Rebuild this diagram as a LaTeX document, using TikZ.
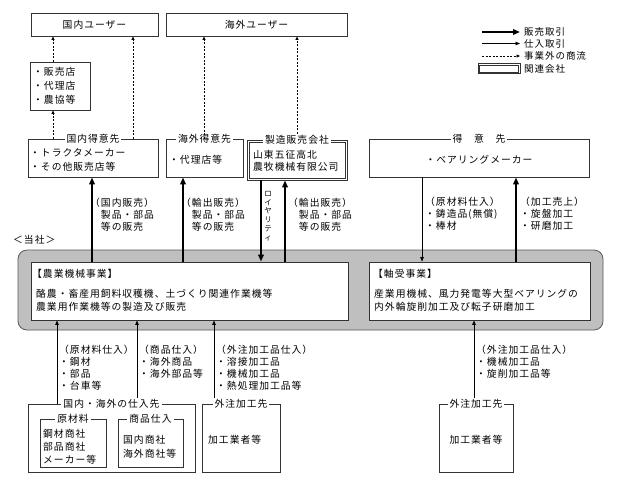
\documentclass[tikz,border=0pt]{standalone}
\usepackage{fontspec}
\setmainfont{Noto Sans CJK JP}[LetterSpace=10]
\usetikzlibrary{arrows.meta}
\tikzset{
  every node/.style={inner sep=0pt, font=\fontsize{9.8}{12}\selectfont},
  box/.style={draw=black!80, line width=0.8pt, minimum width=#1},
  inline/.style={draw=black!80, line width=0.6pt},
  ttl/.style={fill=white, inner xsep=2pt, inner ysep=1pt},
  txt/.style={align=left, anchor=west},
  sale/.style={line width=2.2pt, -{Triangle[length=7pt,width=5.5pt]}},
  buy/.style={line width=0.8pt, -{Triangle[length=4.5pt,width=3.5pt]}},
  ext/.style={line width=0.7pt, dash pattern=on 2pt off 1.5pt, -{Triangle[length=3.5pt,width=3pt]}},
  lgd/.style={anchor=west, font=\fontsize{9.5}{11}\selectfont},
}
\begin{document}
\begin{tikzpicture}[x=1pt,y=-1pt]
\fill[white] (0,0) rectangle (639,488);
\useasboundingbox (0,0) rectangle (639,488);

% users
\node[box=127pt, minimum height=23pt] (ku) at (94.5,24.5) {国内ユーザー};
\node[box=181pt, minimum height=23pt] (ou) at (256.5,24.5) {海外ユーザー};

% shops box
\node[box=60pt, minimum height=48pt] (hb) at (60,86) {};
\node[txt, font=\fontsize{9.8}{14}\selectfont] (hbt) at (33,86) {・販売店\\・代理店\\・農協等};

% customers row
\node[box=130pt, minimum height=38pt] (kt) at (93,158) {};
\node[ttl] (ktt) at (kt.north) {国内得意先};
\node[txt, font=\fontsize{9.8}{14}\selectfont] (ktx) at (30,160) {・トラクタメーカー\\・その他販売店等};

\node[box=77pt, minimum height=38pt] (kat) at (204.5,158) {};
\node[ttl] (katt) at (kat.north) {海外得意先};
\node[txt] (katx) at (169,160) {・代理店等};

\node[box=100pt, minimum height=40pt] (sz) at (297,160) {};
\draw[inline] ([shift={(2.2,2.2)}]sz.north west) rectangle ([shift={(-2.2,-2.2)}]sz.south east);
\node[ttl] (szt) at (sz.north) {製造販売会社};
\node[txt] (szx) at (253,161) {山東五征高北\\農牧機械有限公司};

\node[box=220pt, minimum height=38pt] (tk) at (479,158) {};
\node[ttl] (tkt) at (tk.north) {得　意　先};
\node (tkx) at (479,160) {・ベアリングメーカー};

% company
\node[anchor=west] (ts) at (13,240) {＜当社＞};
\node[draw=black!65, line width=0.8pt, fill=black!25, rounded corners=9pt,
      minimum width=585pt, minimum height=80pt] (outer) at (310.5,290) {};
\node[box=317pt, minimum height=58pt, fill=white] (inL) at (189.5,291) {};
\node[box=221pt, minimum height=58pt, fill=white] (inR) at (479.5,291) {};
\node[txt] (inLh) at (32,274) {【農業機械事業】};
\node[txt, font=\fontsize{9.8}{13}\selectfont] (inLb) at (36,300) {酪農・畜産用飼料収穫機、土づくり関連作業機等\\農業用作業機等の製造及び販売};
\node[txt] (inRh) at (373,274) {【軸受事業】};
\node[txt, font=\fontsize{9.8}{13}\selectfont] (inRb) at (374,300) {産業用機械、風力発電等大型ベアリングの\\内外輪旋削加工及び転子研磨加工};

% suppliers
\node[box=167pt, minimum height=68pt] (sb) at (111.5,438) {};
\node[ttl] (sbt) at (sb.north) {国内・海外の仕入先};
\node[box=66pt, minimum height=48pt] (gz) at (73,443) {};
\node[ttl] (gzt) at (gz.north) {原材料};
\node[txt, font=\fontsize{9.8}{13}\selectfont] (gzx) at (43,447) {鋼材商社\\部品商社\\メーカー等};
\node[box=65pt, minimum height=48pt] (sh) at (150.5,443) {};
\node[ttl] (sht) at (sh.north) {商品仕入};
\node[txt, font=\fontsize{9.8}{14}\selectfont] (shx) at (123,447) {国内商社\\海外商社等};
\node[box=78pt, minimum height=68pt] (gcL) at (241,438) {};
\node[ttl] (gcLt) at (gcL.north) {外注加工先};
\node[txt] (gcLx) at (208,440) {加工業者等};
\node[box=74pt, minimum height=68pt] (gcR) at (476,438) {};
\node[ttl] (gcRt) at (gcR.north) {外注加工先};
\node (gcRx) at (476,440) {加工業者等};

% connector x positions
\coordinate (d1) at (53,0);
\coordinate (d2) at (133,0);
\coordinate (d3) at (204,0);
\coordinate (a1) at (92,0);
\coordinate (a2) at (183,0);
\coordinate (a3) at (261,0);
\coordinate (a4) at (285,0);
\coordinate (a5) at (422,0);
\coordinate (a6) at (516,0);
\coordinate (b1) at (57,0);
\coordinate (b2) at (137,0);
\coordinate (b3) at (214,0);
\coordinate (b4) at (474,0);

% dashed (outside business)
\draw[ext] (hb.north -| d1) -- (ku.south -| d1);
\draw[ext] (kt.north -| d1) -- (hb.south -| d1);
\draw[ext] (kt.north -| d2) -- (ku.south -| d2);
\draw[ext] (kat.north -| d3) -- (ou.south -| d3);
\draw[ext] (szt.north) -- (ou.south -| szt.north);

% sales / purchase arrows (top)
\draw[sale] (inL.north -| a1) -- (kt.south -| a1);
\draw[sale] (inL.north -| a2) -- (kat.south -| a2);
\draw[sale] (sz.south -| a3) -- (inL.north -| a3);
\draw[sale] (inL.north -| a4) -- (sz.south -| a4);
\draw[buy] (tk.south -| a5) -- (inR.north -| a5);
\draw[sale] (inR.north -| a6) -- (tk.south -| a6);

\node[txt] (u1) at (90,215) {（国内販売）\\　製品・部品\\　等の販売};
\node[txt] (u2) at (181,215) {（輸出販売）\\　製品・部品\\　等の販売};
\node[txt] (u3) at (288,215) {（輸出販売）\\　製品・部品\\　等の販売};
\node[align=center, font=\fontsize{7.5}{8.7}\selectfont] (roy) at (268,216) {ロ\\イ\\ヤ\\リ\\テ\\ィ};
\node[txt] (r1) at (425,214) {（原材料仕入）\\・鋳造品(無償)\\・棒材};
\node[txt] (r2) at (520,214) {（加工売上）\\・旋盤加工\\・研磨加工};

% bottom purchase arrows
\draw[buy] (sb.north -| b1) -- (inL.south -| b1);
\draw[buy] (sbt.north -| b2) -- (inL.south -| b2);
\draw[buy] (gcLt.north -| b3) -- (inL.south -| b3);
\draw[buy] (gcRt.north -| b4) -- (inR.south -| b4);

\node[txt] (t1) at (59,368) {（原材料仕入）\\・鋼材\\・部品\\・台車等};
\node[txt] (t2) at (139,362) {（商品仕入）\\・海外商品\\・海外部品等};
\node[txt] (t3) at (216,368) {（外注加工品仕入）\\・溶接加工品\\・機械加工品\\・熱処理加工品等};
\node[txt] (t4) at (476,362) {（外注加工品仕入）\\・機械加工品\\・旋削加工品等};

% legend
\coordinate (l1a) at (482,32); \coordinate (l1b) at (520,32);
\coordinate (l2a) at (482,43.5); \coordinate (l2b) at (520,43.5);
\coordinate (l3a) at (482,56); \coordinate (l3b) at (520,56);
\draw[sale] (l1a) -- (l1b);
\draw[buy] (l2a) -- (l2b);
\draw[ext] (l3a) -- (l3b);
\node[box=42pt, minimum height=10pt] (lgb) at (499,68.5) {};
\draw[inline] ([shift={(2,2)}]lgb.north west) rectangle ([shift={(-2,-2)}]lgb.south east);
\node[lgd] (lt1) at (524,32) {販売取引};
\node[lgd] (lt2) at (524,43.5) {仕入取引};
\node[lgd] (lt3) at (524,56) {事業外の商流};
\node[lgd] (lt4) at (524,68.5) {関連会社};
\end{tikzpicture}
\end{document}
